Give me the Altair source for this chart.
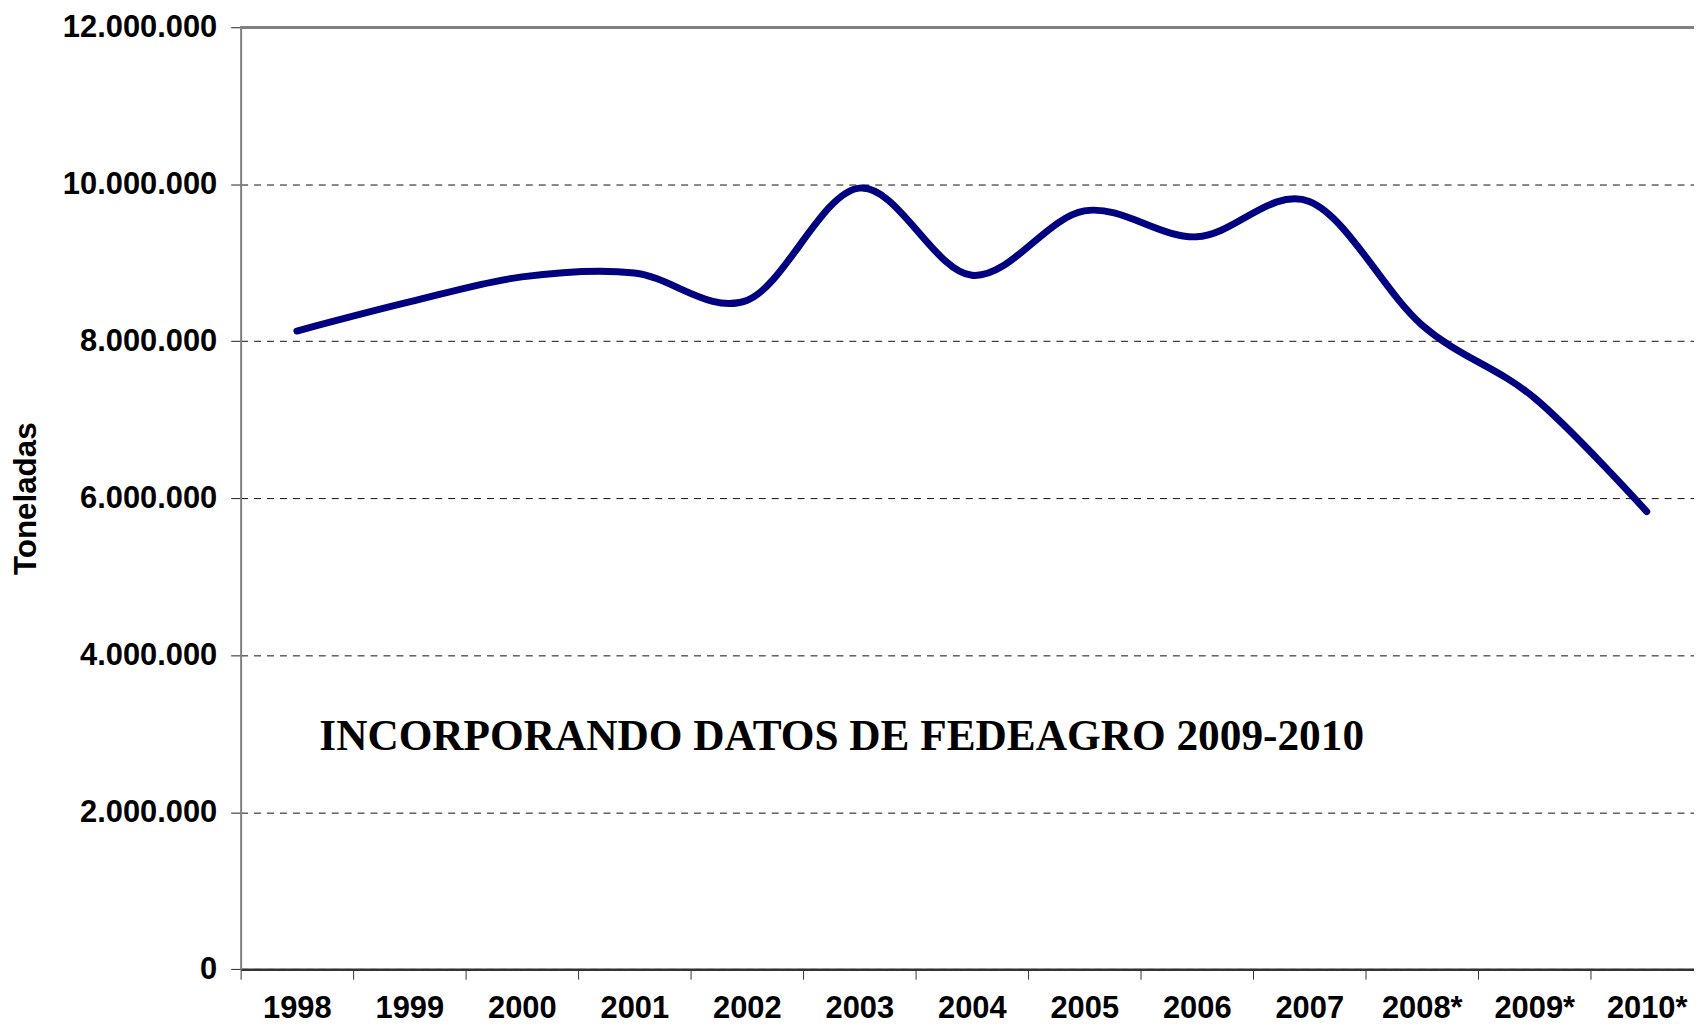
import altair as alt
import pandas as pd

# --- data ---
years = ["1998", "1999", "2000", "2001", "2002", "2003", "2004",
         "2005", "2006", "2007", "2008*", "2009*", "2010*"]
toneladas = [8130000, 8500000, 8820000, 8870000, 8520000, 9950000, 8840000,
             9660000, 9330000, 9780000, 8210000, 7280000, 5830000]
y_ticks = [0, 2000000, 4000000, 6000000, 8000000, 10000000, 12000000]
note_text = "INCORPORANDO DATOS DE FEDEAGRO 2009-2010"
note_year = ["1998"]
note_value = [2794000]

df = pd.DataFrame({"year": years, "v": toneladas})
note_df = pd.DataFrame({"year": note_year, "v": note_value, "t": [note_text]})

PLOT_W = 1460
BAND_RANGE = 1469
PLOT_H = 946.3

x_enc = alt.X(
    "year:N",
    sort=years,
    bandPosition=0.5,
    scale=alt.Scale(type="band", paddingInner=0, paddingOuter=0, range=[0, BAND_RANGE]),
    axis=alt.Axis(
        title=None,
        labelAngle=0,
        tickBand="extent",
        ticks=True,
        tickSize=10,
        tickColor="#333333",
        tickWidth=1,
        domainColor="#333333",
        domainWidth=2.5,
        grid=False,
        labelFont="Liberation Sans",
        labelFontSize=31,
        labelFontWeight="bold",
        labelColor="#000000",
        labelBaseline="alphabetic",
        labelPadding=38,
        labelOverlap=False,
    ),
)

y_enc = alt.Y(
    "v:Q",
    scale=alt.Scale(domain=[0, 12000000], nice=False, zero=True),
    axis=alt.Axis(
        values=y_ticks,
        title="Toneladas",
        titleFont="Liberation Sans",
        titleFontSize=31.5,
        titleFontWeight="bold",
        titleColor="#000000",
        titleAngle=270,
        titleAlign="center",
        titleBaseline="middle",
        titleX=-215,
        titleY=PLOT_H / 2,
        labelExpr="replace(format(datum.value, ',d'), regexp(',', 'g'), '.')",
        labelFont="Liberation Sans",
        labelFontSize=31,
        labelFontWeight="bold",
        labelColor="#000000",
        labelPadding=14,
        labelBaseline="middle",
        tickSize=10,
        tickColor="#222222",
        tickWidth=1,
        domainColor="#808080",
        domainWidth=2,
        grid=True,
        gridColor="#111111",
        gridWidth=1,
        gridDash=[7, 6],
    ),
)

line = alt.Chart(df).mark_line(
    color="#000080",
    strokeWidth=7,
    strokeCap="round",
    strokeJoin="round",
    interpolate="cardinal",
    tension=0,
).encode(x=x_enc, y=y_enc)

top_border = alt.Chart(df).mark_rule(color="#808080", strokeWidth=2).encode(
    y=alt.datum(12000000)
)

note = alt.Chart(note_df).mark_text(
    align="left",
    baseline="alphabetic",
    dx=22.5,
    font="Liberation Serif",
    fontSize=43.5,
    fontWeight="bold",
    color="#000000",
).encode(
    x=alt.X("year:N", sort=years, bandPosition=0.5),
    y=alt.Y("v:Q"),
    text="t:N",
)

chart = alt.layer(top_border, line, note).properties(
    width=PLOT_W,
    height=PLOT_H,
    autosize=alt.AutoSizeParams(type="none"),
    padding={"left": 233.7, "top": 17, "right": 0, "bottom": 54.7},
    background="#ffffff",
).configure_view(stroke=None)

chart.save("out.html", embed_options={"renderer": "svg", "actions": False})
